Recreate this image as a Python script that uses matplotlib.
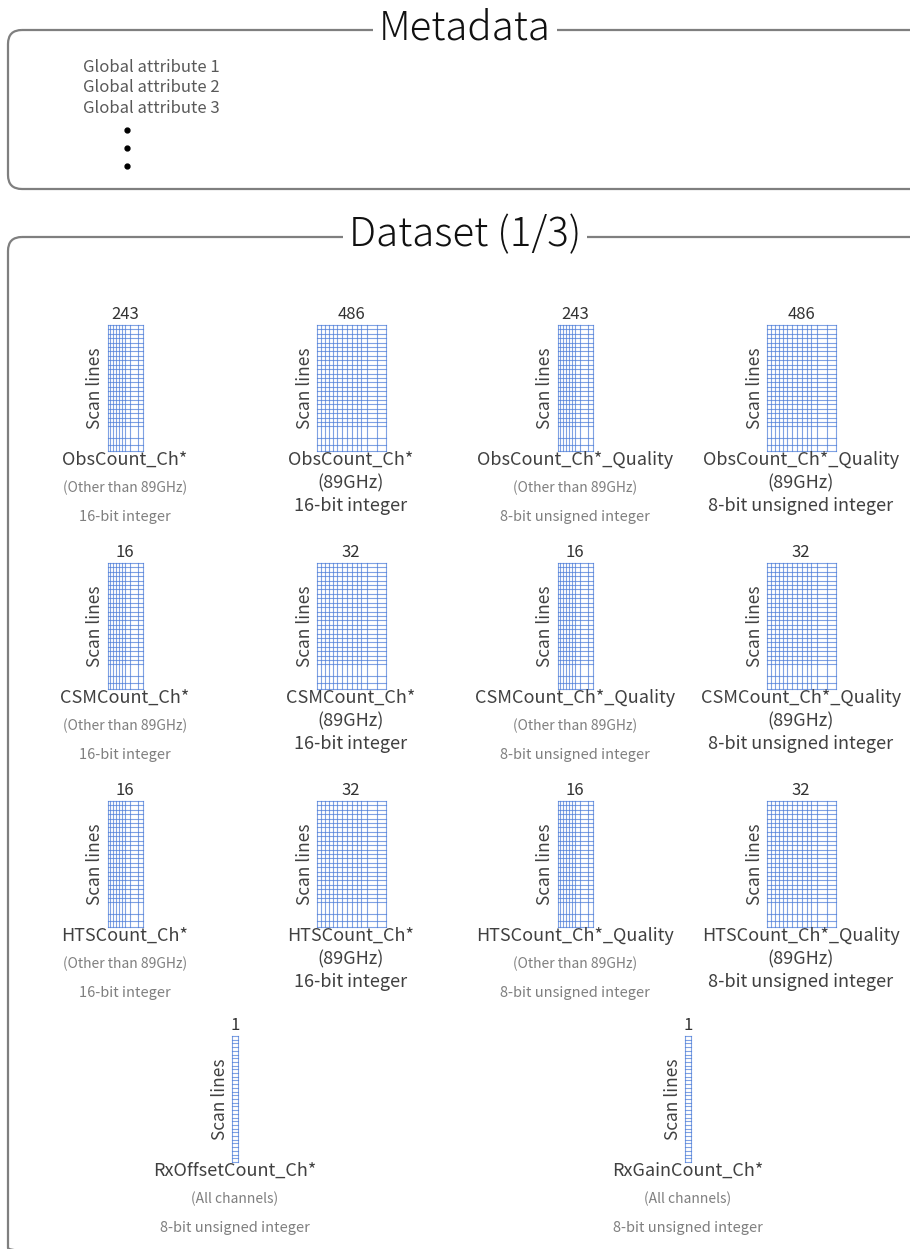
import matplotlib.pyplot as plt
from matplotlib.patches import FancyBboxPatch

plt.rcParams['font.family'] = ['Noto Sans CJK JP', 'DejaVu Sans']

# data
global_attrs = ['Global attribute 1', 'Global attribute 2', 'Global attribute 3']
var_names = ['ObsCount_Ch*', 'ObsCount_Ch*', 'ObsCount_Ch*_Quality', 'ObsCount_Ch*_Quality',
             'CSMCount_Ch*', 'CSMCount_Ch*', 'CSMCount_Ch*_Quality', 'CSMCount_Ch*_Quality',
             'HTSCount_Ch*', 'HTSCount_Ch*', 'HTSCount_Ch*_Quality', 'HTSCount_Ch*_Quality',
             'RxOffsetCount_Ch*', 'RxGainCount_Ch*']
var_widths = [243, 486, 243, 486, 16, 32, 16, 32, 16, 32, 16, 32, 1, 1]
var_freq = ['(Other than 89GHz)', '(89GHz)', '(Other than 89GHz)', '(89GHz)',
            '(Other than 89GHz)', '(89GHz)', '(Other than 89GHz)', '(89GHz)',
            '(Other than 89GHz)', '(89GHz)', '(Other than 89GHz)', '(89GHz)',
            '(All channels)', '(All channels)']
var_types = ['16-bit integer', '16-bit integer', '8-bit unsigned integer', '8-bit unsigned integer',
             '16-bit integer', '16-bit integer', '8-bit unsigned integer', '8-bit unsigned integer',
             '16-bit integer', '16-bit integer', '8-bit unsigned integer', '8-bit unsigned integer',
             '8-bit unsigned integer', '8-bit unsigned integer']

# layout (pixels)
centers_x = [125, 351, 575, 801] * 3 + [235, 688]
tops_y = [325] * 4 + [563] * 4 + [801] * 4 + [1036] * 2
grid_px = {243: 35, 486: 69, 16: 35, 32: 69, 1: 6}
grid_h = 126

narrow_cols = [0, .08, .16, .24, .32, .4, .5, .65, .87, 1]
wide_cols = [0, .06, .12, .18, .24, .3, .37, .44, .51, .58, .65, .73, .88, 1]
rows = [i * 0.035 for i in range(24)] + [.9, .95, 1]

BLUE = '#4a7bd8'
BOX = '#7f7f7f'

fig = plt.figure(figsize=(9.1, 12.49), dpi=100)
ax = fig.add_axes([0, 0, 1, 1])
ax.set_xlim(0, 910)
ax.set_ylim(1249, 0)
ax.axis('off')


def section(y0, y1, title, size):
    box = FancyBboxPatch((8, y0), 960, y1 - y0, boxstyle='round,pad=0,rounding_size=14',
                         facecolor='none', edgecolor=BOX, linewidth=1.6)
    ax.add_patch(box)
    ax.text(465, y0 - 2, title, ha='center', va='center', fontsize=size, color='#111111',
            fontweight='light', bbox=dict(facecolor='white', edgecolor='none', pad=4))


section(30, 189, 'Metadata', 29)
section(237, 1262, 'Dataset (1/3)', 29)

for i, a in enumerate(global_attrs):
    ax.text(83, 67 + i * 20.5, a, ha='left', va='center', fontsize=12, color='#595959')
for k in range(3):
    ax.plot(127, 130 + k * 18, 'o', color='black', markersize=3.5)

for i, name in enumerate(var_names):
    cx, top, w = centers_x[i], tops_y[i], grid_px[var_widths[i]]
    left = cx - w / 2
    bottom = top + grid_h
    if var_widths[i] == 1:
        cols = [0, 1]
        rws = [j / 34 for j in range(35)]
    else:
        cols = narrow_cols if w < 50 else wide_cols
        rws = rows
    for f in cols:
        ax.plot([left + f * w] * 2, [top, bottom], color=BLUE, lw=0.8, alpha=0.7)
    for f in rws:
        ax.plot([left, left + w], [top + f * grid_h] * 2, color=BLUE, lw=0.8, alpha=0.7)
    ax.text(cx, top - 11, str(var_widths[i]), ha='center', va='center', fontsize=12, color='#333333')
    ax.text(left - 12, top + grid_h / 2, 'Scan lines', ha='center', va='center', rotation=90,
            fontsize=12.5, color='#404040')
    ax.text(cx, bottom + 9, name, ha='center', va='center', fontsize=13, color='#404040')
    if var_freq[i] == '(89GHz)':
        ax.text(cx, bottom + 32, var_freq[i], ha='center', va='center', fontsize=13, color='#404040')
        ax.text(cx, bottom + 55, var_types[i], ha='center', va='center', fontsize=13, color='#404040')
    else:
        ax.text(cx, bottom + 37, var_freq[i], ha='center', va='center', fontsize=10, color='#7f7f7f')
        ax.text(cx, bottom + 66, var_types[i], ha='center', va='center', fontsize=10.5, color='#7f7f7f')

fig.savefig('out.png', dpi=100)
